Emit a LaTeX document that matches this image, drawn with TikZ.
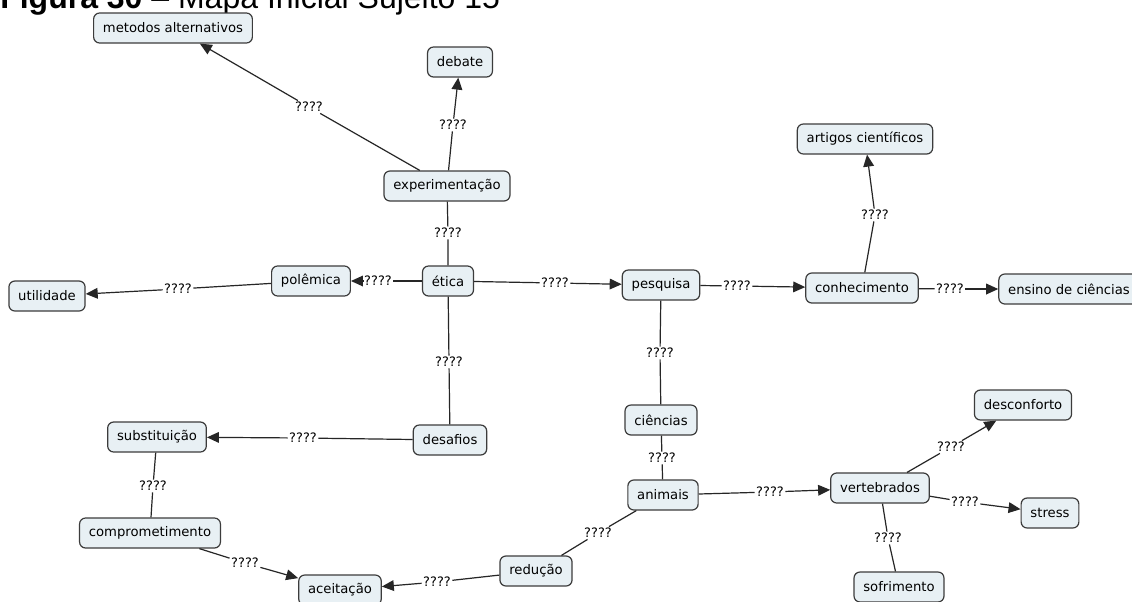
\documentclass[tikz,border=0pt]{standalone}
\usepackage{fontspec}
\setmainfont{DejaVu Sans}
\newfontfamily\titlefont{Liberation Sans}
\usetikzlibrary{arrows.meta}
\definecolor{conceptfill}{RGB}{232,240,244}
\definecolor{conceptline}{RGB}{60,60,60}

\begin{document}
\begin{tikzpicture}[x=0.75pt,y=-0.75pt,
	concept/.style={draw=conceptline, fill=conceptfill, line width=0.9pt, rounded corners=4.5pt, inner xsep=7pt, minimum height=22.5pt, font=\fontsize{9.9pt}{11pt}\selectfont},
	linkword/.style={fill=white, inner sep=1pt, font=\fontsize{9.75pt}{11pt}\selectfont},
	link/.style={draw=black!85, line width=0.9pt},
	tolink/.style={link, -{Triangle[length=9pt,width=8pt]}}]
	\path[use as bounding box, fill=white] (0,0) rectangle (1132,601);
	\clip (0,0) rectangle (1132,601);
	\node[anchor=base west, inner sep=0pt, font=\titlefont\fontsize{24pt}{26pt}\selectfont] (title) at (0,8) {\textbf{Figura 30} – Mapa Inicial Sujeito 15};

	\node[concept] (metodos) at (173,28) {metodos alternativos};
	\node[concept] (debate) at (460,62) {debate};
	\node[concept] (exper) at (447,186) {experimentação};
	\node[concept] (artigos) at (865,139) {artigos científicos};
	\node[concept] (utilidade) at (47,296) {utilidade};
	\node[concept] (polemica) at (311,281) {polêmica};
	\node[concept] (etica) at (448,281) {ética};
	\node[concept] (pesquisa) at (661,285) {pesquisa};
	\node[concept] (conhec) at (862,288) {conhecimento};
	\node[concept] (ensino) at (1069,289) {ensino de ciências};
	\node[concept] (substit) at (157,437) {substituição};
	\node[concept] (desafios) at (450,440) {desafios};
	\node[concept] (ciencias) at (661,420) {ciências};
	\node[concept] (animais) at (663,495) {animais};
	\node[concept] (vertebr) at (880,488) {vertebrados};
	\node[concept] (desconf) at (1023,405) {desconforto};
	\node[concept] (stress) at (1050,513) {stress};
	\node[concept] (sofrim) at (899,587) {sofrimento};
	\node[concept] (compr) at (150,533) {comprometimento};
	\node[concept] (reducao) at (536,571) {redução};
	\node[concept] (aceit) at (340,590) {aceitação};

	\node[linkword] (q1) at (309,107) {????};
	\node[linkword] (q2) at (453,125) {????};
	\node[linkword] (q3) at (448,233) {????};
	\node[linkword] (q4) at (378,281) {????};
	\node[linkword] (q5) at (178,289) {????};
	\node[linkword] (q6) at (555,283) {????};
	\node[linkword] (q7) at (449,362) {????};
	\node[linkword] (q8) at (303,438) {????};
	\node[linkword] (q9) at (153,486) {????};
	\node[linkword] (q10) at (245,563) {????};
	\node[linkword] (q11) at (737,286) {????};
	\node[linkword] (q12) at (875,215) {????};
	\node[linkword] (q13) at (950,289) {????};
	\node[linkword] (q14) at (660,353) {????};
	\node[linkword] (q15) at (662,458) {????};
	\node[linkword] (q16) at (770,492) {????};
	\node[linkword] (q17) at (598,533) {????};
	\node[linkword] (q18) at (437,582) {????};
	\node[linkword] (q19) at (951,447) {????};
	\node[linkword] (q20) at (965,502) {????};
	\node[linkword] (q21) at (888,538) {????};

	\draw[link] (exper) -- (q1);
	\draw[tolink] (q1) -- (metodos);
	\draw[link] (exper) -- (q2);
	\draw[tolink] (q2) -- (debate);
	\draw[link] (exper) -- (q3) -- (etica);
	\draw[link] (etica) -- (q4);
	\draw[tolink] (q4) -- (polemica);
	\draw[link] (polemica) -- (q5);
	\draw[tolink] (q5) -- (utilidade);
	\draw[link] (etica) -- (q6);
	\draw[tolink] (q6) -- (pesquisa);
	\draw[link] (etica) -- (q7) -- (desafios);
	\draw[link] (desafios) -- (q8);
	\draw[tolink] (q8) -- (substit);
	\draw[link] (substit) -- (q9) -- (compr);
	\draw[link] (compr) -- (q10);
	\draw[tolink] (q10) -- (aceit);
	\draw[link] (pesquisa) -- (q11);
	\draw[tolink] (q11) -- (conhec);
	\draw[link] (conhec) -- (q12);
	\draw[tolink] (q12) -- (artigos);
	\draw[link] (conhec) -- (q13);
	\draw[tolink] (q13) -- (ensino);
	\draw[link] (pesquisa) -- (q14) -- (ciencias);
	\draw[link] (ciencias) -- (q15) -- (animais);
	\draw[link] (animais) -- (q16);
	\draw[tolink] (q16) -- (vertebr);
	\draw[link] (animais) -- (q17) -- (reducao);
	\draw[link] (reducao) -- (q18);
	\draw[tolink] (q18) -- (aceit);
	\draw[link] (vertebr) -- (q19);
	\draw[tolink] (q19) -- (desconf);
	\draw[link] (vertebr) -- (q20);
	\draw[tolink] (q20) -- (stress);
	\draw[link] (vertebr) -- (q21) -- (sofrim);
\end{tikzpicture}
\end{document}
